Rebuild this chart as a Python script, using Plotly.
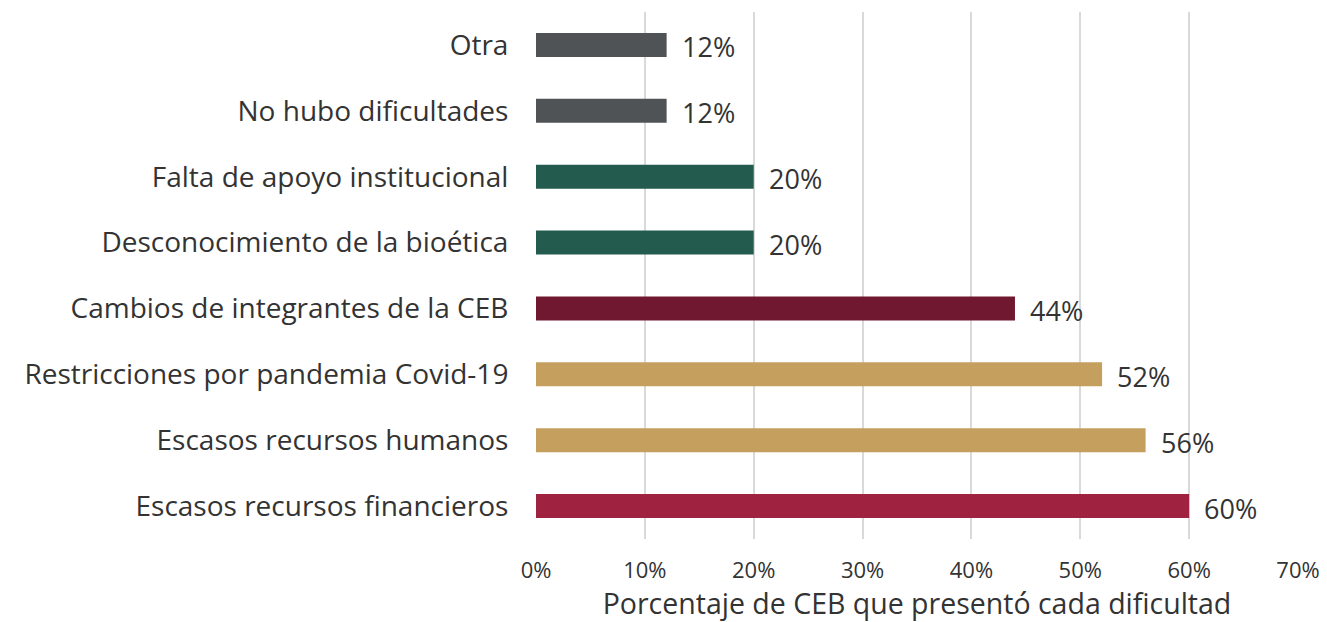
import plotly.graph_objects as go

categories = [
    "Escasos recursos financieros",
    "Escasos recursos humanos",
    "Restricciones por pandemia Covid-19",
    "Cambios de integrantes de la CEB",
    "Desconocimiento de la bioética",
    "Falta de apoyo institucional",
    "No hubo dificultades",
    "Otra",
]
values = [60, 56, 52, 44, 20, 20, 12, 12]
colors = ["#9F2241", "#C49F5E", "#C49F5E", "#6F1830", "#235B4E", "#235B4E", "#505356", "#505356"]
tick_vals = [0, 10, 20, 30, 40, 50, 60, 70]
tick_text = ["0%", "10%", "20%", "30%", "40%", "50%", "60%", "70%"]
x_title = "Porcentaje de CEB que presentó cada dificultad"

FONT = "Open Sans"
TXT = "#333333"

fig = go.Figure()
fig.add_trace(go.Bar(
    y=categories, x=values, orientation="h",
    marker=dict(color=colors, line=dict(width=0)),
    width=0.365, hoverinfo="skip",
))
for c, v in zip(categories, values):
    fig.add_annotation(x=v, y=c, text=f"{v}%", showarrow=False,
                       xanchor="left", xshift=13, yshift=-2,
                       font=dict(family=FONT, size=27, color=TXT))

fig.update_layout(
    width=1319, height=614,
    margin=dict(l=528, r=29, t=4, b=83, autoexpand=False),
    paper_bgcolor="white", plot_bgcolor="white",
    showlegend=False,
    font=dict(family=FONT, color=TXT),
    xaxis=dict(range=[0, 70], tickvals=tick_vals, ticktext=tick_text,
               showgrid=True, gridcolor="#D9D9D9", gridwidth=1.5,
               zeroline=False, showline=False, automargin=False,
               tickfont=dict(family=FONT, size=22, color=TXT),
               ticks="outside", ticklen=0, ticklabelstandoff=12,
               title=dict(text=x_title, font=dict(family=FONT, size=28.5, color=TXT), standoff=21)),
    yaxis=dict(range=[-0.5, 7.5], showgrid=False, zeroline=False, showline=False,
               automargin=False,
               tickfont=dict(family=FONT, size=28, color=TXT),
               ticks="outside", ticklen=0, ticklabelstandoff=21),
)
fig.write_html("out.html")
